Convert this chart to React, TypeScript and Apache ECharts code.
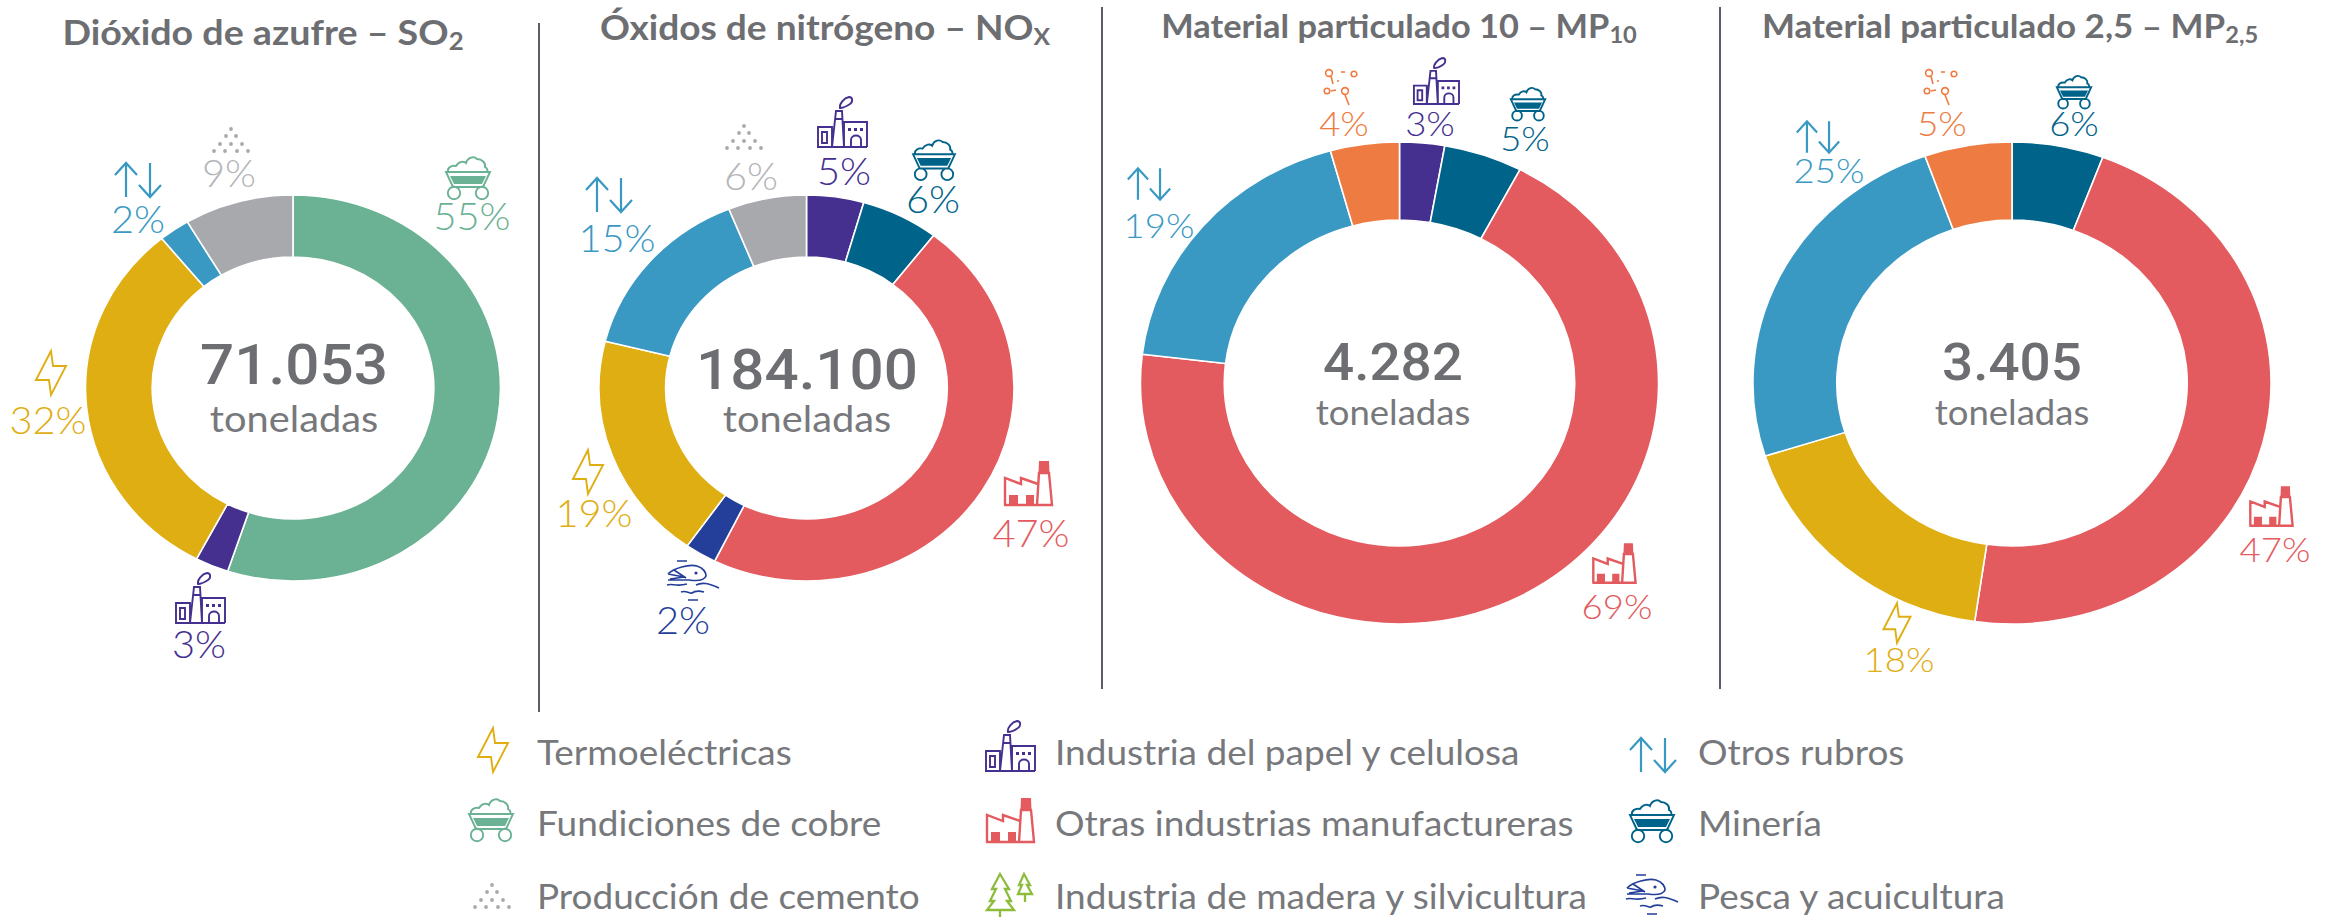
import React, { useEffect, useRef } from "react";
import * as echarts from "echarts";

// ---------- data ----------
const so2Categories = ["Fundiciones de cobre", "Industria del papel y celulosa", "Termoeléctricas", "Otros rubros", "Producción de cemento"];
const so2Shares = [55.1, 2.6, 31.4, 2.4, 8.5];
const so2Labels = ["55%", "3%", "32%", "2%", "9%"];
const noxCategories = ["Industria del papel y celulosa", "Minería", "Otras industrias manufactureras", "Pesca y acuicultura", "Termoeléctricas", "Otros rubros", "Producción de cemento"];
const noxShares = [4.45, 6.05, 46.8, 2.45, 19.15, 15, 6.1];
const noxLabels = ["5%", "6%", "47%", "2%", "19%", "15%", "6%"];
const mp10Categories = ["Industria del papel y celulosa", "Minería", "Otras industrias manufactureras", "Otros rubros", "Otras fuentes"];
const mp10Shares = [2.8, 4.9, 69.2, 18.8, 4.3];
const mp10Labels = ["3%", "5%", "69%", "19%", "4%"];
const mp25Categories = ["Minería", "Otras industrias manufactureras", "Termoeléctricas", "Otros rubros", "Otras fuentes"];
const mp25Shares = [5.7, 46.6, 17.8, 24.45, 5.45];
const mp25Labels = ["6%", "47%", "18%", "25%", "5%"];
const totals = ["71.053", "184.100", "4.282", "3.405"];
const unitLabel = "toneladas";
const legendColumns = [
  ["Termoeléctricas", "Fundiciones de cobre", "Producción de cemento"],
  ["Industria del papel y celulosa", "Otras industrias manufactureras", "Industria de madera y silvicultura"],
  ["Otros rubros", "Minería", "Pesca y acuicultura"],
];

// ---------- styles ----------
const STYLE: Record<string, { color: string; icon: string }> = {
  "Termoeléctricas": { color: "#dfae12", icon: "bolt" },
  "Fundiciones de cobre": { color: "#6bb193", icon: "cart" },
  "Producción de cemento": { color: "#a7a9ac", icon: "dots" },
  "Industria del papel y celulosa": { color: "#452f8f", icon: "factory" },
  "Otras industrias manufactureras": { color: "#e35b5e", icon: "redfactory" },
  "Industria de madera y silvicultura": { color: "#8dbb3c", icon: "trees" },
  "Otros rubros": { color: "#3a99c3", icon: "arrows" },
  "Minería": { color: "#00638a", icon: "cart" },
  "Pesca y acuicultura": { color: "#233f99", icon: "fish" },
  "Otras fuentes": { color: "#ee7b41", icon: "particles" },
};
const LABEL_COLOR: Record<string, string> = { "Producción de cemento": "#b3b5b8" };

const FONT = "Lato, sans-serif";
const NUM_FONT = "Roboto, sans-serif";
const TEXT_GREY = "#77787c";
const STRONG_GREY = "#6d6e71";
const STRETCH = 1.075;

// ---------- icon shapes ----------
const dot = (x: number, y: number, r: number) =>
  `M${x - r} ${y}A${r} ${r} 0 1 0 ${x + r} ${y}A${r} ${r} 0 1 0 ${x - r} ${y}Z`;
const dotsPile = [
  [0, -11], [-5, -4], [5, -4], [-11, 4], [0, 4], [11, 4], [-17, 11], [-6, 11], [6, 11], [17, 11],
].map(([x, y]) => dot(x, y, 1.9)).join("");
const ICONS: Record<string, { line?: string; solid?: string; width?: number }> = {
  bolt: { line: "M0 -22L-15 7L-2 7L0 22L15 -7L2 -7Z" },
  cart: {
    line:
      "M-22 -6L22 -6L15 9L-15 9ZM-20 -6C-21 -10 -17 -13 -12 -12C-9 -17 -4 -17 -2 -15C0 -21 6 -22 9 -19C14 -19 18 -15 17 -11C19 -10 20 -8 19 -6" +
      dot(-14, 15, 6.2) + dot(14, 15, 6.2),
    solid: "M-18 -2L18 -2L14 6L-14 6Z",
  },
  dots: { solid: dotsPile },
  factory: {
    line:
      "M-25 25L25 25M-24 25L-24 5L-10 5L-10 25M-10 25L-6 -11L0 -11L2 25M-7 -3L1 -3M2 25L2 0L25 0L25 25M9 25L9 18C9 12 19 12 19 18L19 25M-20 10L-20 21L-15 21L-15 10ZM-2 -14C-3 -18 2 -24 7 -25C11 -25 11 -20 8 -18C5 -16 1 -14 -2 -14Z",
    solid: "M6 6h3v3h-3ZM12 6h3v3h-3ZM18 6h3v3h-3Z",
  },
  redfactory: {
    width: 2.4,
    line: "M-24 22L24 22L21 -10L11 -10L9 22M-23 22L-23 -5L-7 1L-7 -5L10 1",
    solid: "M11 -22L21 -22L21.5 -10L10.5 -10ZM-19 12L-10 12L-10 22L-19 22ZM-2 12L6 12L6 22L-2 22Z",
  },
  trees: {
    width: 2.3,
    line:
      "M-10 -21L-1 -6L-5 -6L1 6L-3 6L4 15L-23 15L-16 6L-20 6L-14 -6L-18 -6ZM-10 15L-10 22M14 -21L20 -10L17 -10L22 -1L8 -1L12 -10L9 -10ZM15 -1L15 7",
  },
  arrows: {
    width: 2.2,
    line: "M-12 17L-12 -17M-23 -5L-12 -17L-1 -5M12 -17L12 17M1 5L12 17L23 5",
  },
  fish: {
    width: 1.7,
    line:
      "M-26 -7C-20 -13 -5 -17 3 -15C10 -13 12 -8 12 -5C10 0 2 0 -5 -1C-12 -1 -20 -1 -26 -1M-26 -7L-10 -4L-24 -2M-20 -11L-8 -3M-17 -20L-7 -20M-27 4C-22 2 -18 6 -7 3M2 4C8 1 14 2 25 7M-13 11C-8 9 -4 13 -2 12C2 9 6 10 10 11M-6 19L4 19",
    solid: dot(2, -8, 1.6),
  },
  particles: {
    width: 1.6,
    line:
      dot(-12, -15, 3.4) + "M-10 -12L-8 -4" + dot(13, -14, 2.8) + "M0 -16L4 -16" + dot(-14, 3, 2.8) + "M-10 3L-5 2" + dot(4, 3, 3.4) + "M4 7L8 17M-4 -7L-2 -7",
  },
};
Object.entries(ICONS).forEach(([name, icon]) => {
  if (icon.line) echarts.graphic.registerShape(name + "-line", echarts.graphic.extendPath(icon.line, {}));
  if (icon.solid) echarts.graphic.registerShape(name + "-solid", echarts.graphic.extendPath(icon.solid, {}));
});

const drawIcon = (category: string, cx: number, cy: number, scale = 1) => {
  const { color, icon } = STYLE[category];
  const def = ICONS[icon];
  const out: any[] = [];
  if (def.line)
    out.push({ type: icon + "-line", x: cx, y: cy, scaleX: scale, scaleY: scale, silent: true, style: { fill: "none", stroke: color, lineWidth: (def.width || 1.9) / scale } });
  if (def.solid)
    out.push({ type: icon + "-solid", x: cx, y: cy, scaleX: scale, scaleY: scale, silent: true, style: { fill: color, stroke: "none" } });
  return out;
};

// every text is slightly wider than tall in the reference
const label = (text: string, x: number, y: number, size: number, fill: string, weight: any = 400, family = FONT, align = "center") => ({
  type: "text",
  silent: true,
  x,
  y,
  scaleX: STRETCH,
  style: { text, fill, font: `${weight} ${size}px ${family}`, align, verticalAlign: "middle" },
});

// ---------- layout (full-size px) ----------
const CHARTS = [
  {
    categories: so2Categories, shares: so2Shares, labels: so2Labels, cx: 293, cy: 388, r: 193, inner: 131, labelSize: 37,
    totalAt: [294, 365, 56], unitAt: [294, 418, 37],
    marks: [
      { label: [472, 216], icon: [468, 178, 1] },
      { label: [199, 644], icon: [200, 598, 1] },
      { label: [48, 420], icon: [51, 373, 1] },
      { label: [138, 219], icon: [138, 180, 1] },
      { label: [229, 173], icon: [231, 140, 1] },
    ],
  },
  {
    categories: noxCategories, shares: noxShares, labels: noxLabels, cx: 806.5, cy: 388, r: 193, inner: 131, labelSize: 37,
    totalAt: [807, 370, 56], unitAt: [807, 418, 37],
    marks: [
      { label: [844, 171], icon: [842, 122, 1] },
      { label: [933, 199], icon: [934, 160, 0.95] },
      { label: [1031, 533], icon: [1028, 483, 1] },
      { label: [683, 620], icon: [694, 581, 1] },
      { label: [594, 513], icon: [588, 472, 1] },
      { label: [617, 238], icon: [609, 195, 1] },
      { label: [751, 176], icon: [744, 137, 1] },
    ],
  },
  {
    categories: mp10Categories, shares: mp10Shares, labels: mp10Labels, cx: 1399.5, cy: 383, r: 241, inner: 163, labelSize: 34,
    totalAt: [1393, 363, 51], unitAt: [1393, 412, 34],
    marks: [
      { label: [1430, 123], icon: [1436, 81, 0.92] },
      { label: [1525, 138], icon: [1528, 104, 0.78] },
      { label: [1617, 606], icon: [1614, 563, 0.9] },
      { label: [1159, 225], icon: [1149, 184, 0.92] },
      { label: [1344, 123], icon: [1341, 88, 1] },
    ],
  },
  {
    categories: mp25Categories, shares: mp25Shares, labels: mp25Labels, cx: 2012, cy: 383, r: 241, inner: 163, labelSize: 34,
    totalAt: [2012, 363, 51], unitAt: [2012, 412, 34],
    marks: [
      { label: [2074, 123], icon: [2074, 92, 0.78] },
      { label: [2275, 549], icon: [2271, 506, 0.9] },
      { label: [1899, 659], icon: [1897, 623, 0.9] },
      { label: [1829, 170], icon: [1818, 137, 0.92] },
      { label: [1942, 123], icon: [1941, 88, 1] },
    ],
  },
];

const TITLES = [
  { main: "Dióxido de azufre – SO", sub: "2", x: 263, y: 32, size: 35 },
  { main: "Óxidos de nitrógeno – NO", sub: "X", x: 825, y: 27, size: 34.5 },
  { main: "Material particulado 10 – MP", sub: "10", x: 1399, y: 25, size: 32 },
  { main: "Material particulado 2,5 – MP", sub: "2,5", x: 2010, y: 25, size: 32.5 },
];
const DIVIDERS = [
  [539, 23, 712],
  [1102, 7, 689],
  [1720, 7, 689],
];
const LEGEND_TEXT_X = [537, 1055, 1698];
const LEGEND_ICON_X = [[493, 491, 492], [1010, 1010, 1010], [1653, 1652, 1653]];
const LEGEND_ICON_Y = [[750, 820, 896], [746, 820, 895], [755, 821, 895]];
const LEGEND_TEXT_Y = [752, 823, 896];

export default function App() {
  const pieRef = useRef<HTMLDivElement>(null);
  const overlayRef = useRef<HTMLDivElement>(null);

  useEffect(() => {
    const pies = echarts.init(pieRef.current!, undefined, { renderer: "svg" });
    const overlay = echarts.init(overlayRef.current!, undefined, { renderer: "svg" });

    pies.setOption({
      animation: false,
      series: CHARTS.map((c) => ({
        type: "pie",
        silent: true,
        clockwise: true,
        startAngle: 90,
        center: [c.cx / STRETCH, c.cy],
        radius: [c.inner, c.r],
        label: { show: false },
        labelLine: { show: false },
        itemStyle: { borderColor: "#ffffff", borderWidth: 1.5 },
        data: c.categories.map((name, i) => ({
          name,
          value: c.shares[i],
          itemStyle: { color: STYLE[name].color },
        })),
      })),
    });

    const elements: any[] = [];
    DIVIDERS.forEach(([x, y1, y2]) =>
      elements.push({ type: "line", silent: true, shape: { x1: x, y1, x2: x, y2 }, style: { stroke: "#5b5c66", lineWidth: 2 } }),
    );
    TITLES.forEach((t) =>
      elements.push({
        type: "text",
        silent: true,
        x: t.x,
        y: t.y,
        scaleX: STRETCH,
        style: {
          text: `{a|${t.main}}{b|${t.sub}}`,
          align: "center",
          verticalAlign: "middle",
          rich: {
            a: { font: `700 ${t.size}px ${FONT}`, fill: STRONG_GREY, lineHeight: 40, verticalAlign: "middle" },
            b: { font: `700 ${Math.round(t.size * 0.68)}px ${FONT}`, fill: STRONG_GREY, lineHeight: 30, verticalAlign: "bottom" },
          },
        },
      }),
    );
    CHARTS.forEach((c, ci) => {
      elements.push(label(totals[ci], c.totalAt[0], c.totalAt[1], c.totalAt[2], STRONG_GREY, 500, NUM_FONT));
      elements.push(label(unitLabel, c.unitAt[0], c.unitAt[1], c.unitAt[2], TEXT_GREY));
      c.categories.forEach((name, i) => {
        const m = c.marks[i];
        elements.push(label(c.labels[i], m.label[0], m.label[1], c.labelSize, LABEL_COLOR[name] || STYLE[name].color, 300));
        elements.push(...drawIcon(name, m.icon[0], m.icon[1], m.icon[2]));
      });
    });
    legendColumns.forEach((col, ci) =>
      col.forEach((name, ri) => {
        elements.push(...drawIcon(name, LEGEND_ICON_X[ci][ri], LEGEND_ICON_Y[ci][ri]));
        elements.push(label(name, LEGEND_TEXT_X[ci], LEGEND_TEXT_Y[ri], 34.4, TEXT_GREY, 400, FONT, "left"));
      }),
    );
    overlay.setOption({ animation: false, graphic: { elements } });

    return () => {
      pies.dispose();
      overlay.dispose();
    };
  }, []);

  return (
    <div style={{ position: "fixed", left: 0, top: 0, width: 2333, height: 918, overflow: "hidden", background: "#ffffff" }}>
      <div
        ref={pieRef}
        style={{ position: "absolute", left: 0, top: 0, width: Math.ceil(2333 / STRETCH), height: 918, transform: `scaleX(${STRETCH})`, transformOrigin: "0 0" }}
      />
      <div ref={overlayRef} style={{ position: "absolute", left: 0, top: 0, width: 2333, height: 918 }} />
    </div>
  );
}
